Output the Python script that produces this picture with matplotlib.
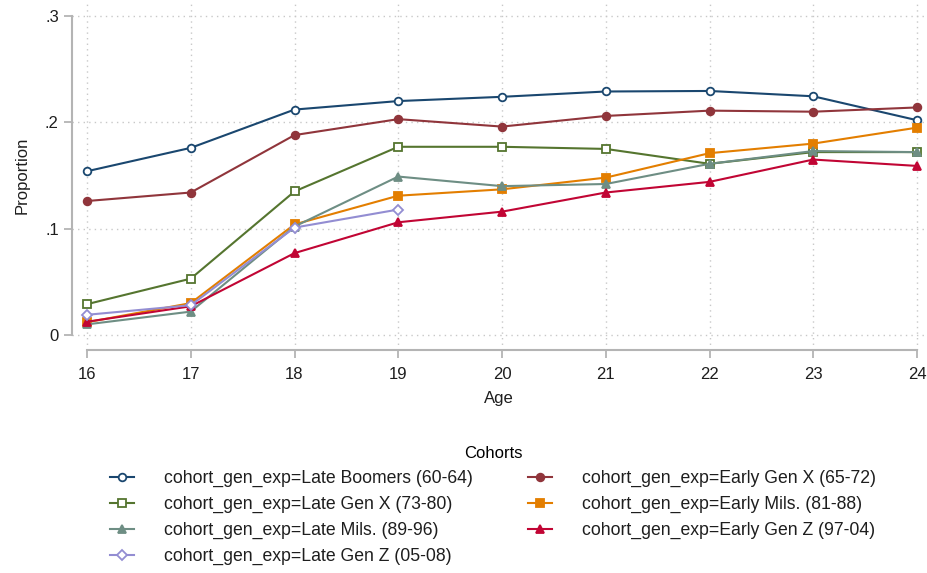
import matplotlib.pyplot as plt
import numpy as np

plt.rcParams['font.family'] = ['Liberation Sans', 'DejaVu Sans']

ages = [16, 17, 18, 19, 20, 21, 22, 23, 24]

late_boomers = [0.154, 0.176, 0.212, 0.220, 0.224, 0.229, 0.2295, 0.2245, 0.202]
early_gen_x = [0.126, 0.134, 0.188, 0.203, 0.196, 0.206, 0.211, 0.210, 0.214]
late_gen_x = [0.029, 0.053, 0.135, 0.177, 0.177, 0.175, 0.161, 0.172, 0.172]
early_mils = [0.012, 0.030, 0.104, 0.131, 0.137, 0.148, 0.171, 0.180, 0.195]
late_mils = [0.010, 0.022, 0.102, 0.149, 0.140, 0.142, 0.161, 0.173, 0.172]
early_gen_z = [0.0125, 0.027, 0.077, 0.106, 0.116, 0.134, 0.144, 0.165, 0.159]
late_gen_z = [0.019, 0.028, 0.101, 0.118]

prefix = 'cohort_gen_exp='
# (label, values, color, marker, filled)
series = [
    ('Late Boomers (60-64)', late_boomers, '#1a476f', 'o', False),
    ('Early Gen X (65-72)', early_gen_x, '#90353b', 'o', True),
    ('Late Gen X (73-80)', late_gen_x, '#55752f', 's', False),
    ('Early Mils. (81-88)', early_mils, '#e37e00', 's', True),
    ('Late Mils. (89-96)', late_mils, '#6e8e84', '^', True),
    ('Early Gen Z (97-04)', early_gen_z, '#c10534', '^', True),
    ('Late Gen Z (05-08)', late_gen_z, '#938dd2', 'D', False),
]

W, H = 927, 573
fig = plt.figure(figsize=(W / 100, H / 100), dpi=100)
ax = fig.add_axes([72 / W, 1 - 350 / H, (925 - 72) / W, 350 / H])

handles = {}
for label, vals, col, mk, filled in series:
    ms = 5.5 if mk != 'D' else 4.8
    h, = ax.plot(ages[:len(vals)], vals, color=col, lw=1.5, marker=mk, markersize=ms,
                 markerfacecolor=col if filled else 'white', markeredgecolor=col,
                 markeredgewidth=1.3, label=prefix + label, zorder=3)
    handles[label] = h

px_per_unit_x = 103.75
px_per_unit_y = 1063.3
ax.set_xlim(16 - 15 / px_per_unit_x, 24 + 8 / px_per_unit_x)
ax.set_ylim(-15 / px_per_unit_y, 0.3 + 16 / px_per_unit_y)

ax.set_xticks(ages)
ax.set_yticks([0, 0.1, 0.2, 0.3])
ax.set_yticklabels(['0', '.1', '.2', '.3'])

for s in ['top', 'right']:
    ax.spines[s].set_visible(False)
ax.spines['left'].set_bounds(0, 0.3)
ax.spines['bottom'].set_bounds(16, 24)
for s in ['left', 'bottom']:
    ax.spines[s].set_color('#b4b4b4')
    ax.spines[s].set_linewidth(1.5)
ax.tick_params(colors='#b4b4b4', width=1.3, length=6, labelsize=12, labelcolor='#1e1e1e')
ax.tick_params(axis='x', pad=6)

ax.grid(True, linestyle=(0, (1, 3)), color='#c8c8c8', linewidth=1.0)
ax.set_axisbelow(True)

ax.set_xlabel('Age', fontsize=12, color='#1e1e1e', labelpad=7)
ax.set_ylabel('Proportion', fontsize=12, color='#1e1e1e', labelpad=11)

order = ['Late Boomers (60-64)', 'Late Gen X (73-80)', 'Late Mils. (89-96)', 'Late Gen Z (05-08)',
         'Early Gen X (65-72)', 'Early Mils. (81-88)', 'Early Gen Z (97-04)']
leg = fig.legend([handles[k] for k in order], [prefix + k for k in order], ncol=2,
                 loc='upper center', bbox_to_anchor=(493 / W, 1 - 432 / H),
                 frameon=False, fontsize=12.7, title='Cohorts', title_fontsize=12,
                 handlelength=1.35, columnspacing=3.1, labelspacing=0.5, handletextpad=1.7,
                 borderpad=0.3)
for t in leg.get_texts():
    t.set_color('#1e1e1e')

fig.savefig('out.png', dpi=100, facecolor='white')
